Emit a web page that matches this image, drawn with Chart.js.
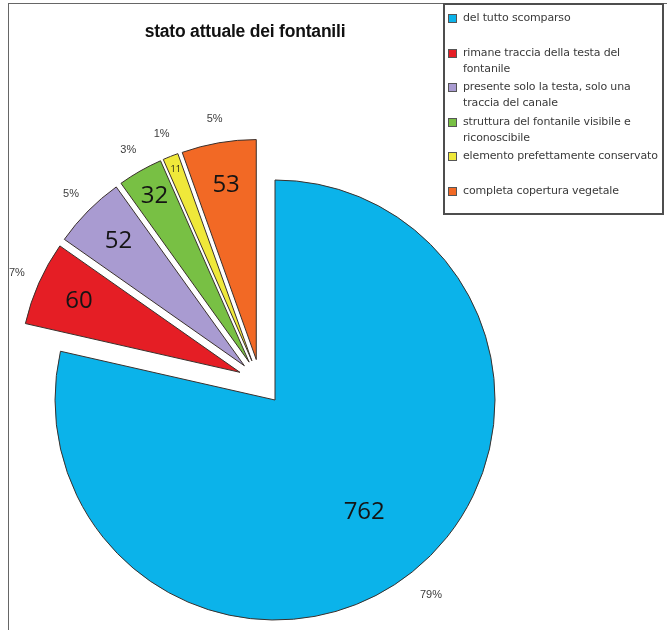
<!DOCTYPE html>
<html>
<head>
<meta charset="utf-8">
<script src="https://cdn.jsdelivr.net/npm/chart.js@4/dist/chart.umd.min.js"></script>
<style>
  html, body { margin:0; padding:0; background:#fff; }
  #wrap { position:relative; width:667px; height:630px; overflow:hidden; background:#fff; }
  #c { position:absolute; left:0; top:0; }
  #frame { position:absolute; left:8px; top:3px; width:670px; height:640px;
           border-top:1.5px solid #666; border-left:1.5px solid #666; box-sizing:border-box; }
  #title { position:absolute; left:0; width:490px; top:21px; text-align:center;
           font:bold 17.5px "Liberation Sans", Arial, sans-serif; color:#111; line-height:20px; letter-spacing:-0.2px; }
  #legend { position:absolute; left:443px; top:3px; width:221px; height:212px; box-sizing:border-box;
            border:2px solid #4e4e4e; background:#fff; }
  .item { position:absolute; left:1px; width:216px; }
  .mk { position:absolute; left:2px; top:4px; width:7px; height:7px; border:1px solid #555; }
  .tx { position:absolute; left:17px; width:200px; font:11px "DejaVu Sans", sans-serif; color:#3a3a3a;
        line-height:16px; letter-spacing:-0.15px; }
</style>
</head>
<body>
<div id="wrap">
  <canvas id="c" width="667" height="630"></canvas>
  <div id="frame"></div>
  <div id="title"></div>
  <div id="legend"></div>
</div>
<script>
const chartTitle = 'stato attuale dei fontanili';
const categories = [
  'del tutto scomparso',
  'rimane traccia della testa del fontanile',
  'presente solo la testa, solo una traccia del canale',
  'struttura del fontanile visibile e riconoscibile',
  'elemento prefettamente conservato',
  'completa copertura vegetale'
];
const values = [762, 60, 52, 32, 11, 53];
const percentLabels = ['79%', '7%', '5%', '3%', '1%', '5%'];
const colors = ['#0BB3EA', '#E51E25', '#A99BD1', '#78C044', '#EFE83A', '#F26925'];

const GROUP_PULL = 24, SLICE_PULL = 22, RADIUS = 220;

document.getElementById('title').textContent = chartTitle;

// legend (HTML)
const legend = document.getElementById('legend');
categories.forEach((name, i) => {
  const it = document.createElement('div');
  it.className = 'item';
  it.style.top = (5 + i * 34.5) + 'px';
  const mk = document.createElement('div');
  mk.className = 'mk';
  mk.style.background = colors[i];
  const tx = document.createElement('div');
  tx.className = 'tx';
  tx.textContent = name;
  it.appendChild(mk); it.appendChild(tx);
  legend.appendChild(it);
});

function sliceShift(arcs, i) {
  if (i === 0) return {dx: 0, dy: 0};
  const gMid = (arcs[1].startAngle + arcs[arcs.length - 1].endAngle) / 2;
  const a = arcs[i];
  const mid = (a.startAngle + a.endAngle) / 2;
  return {
    dx: GROUP_PULL * Math.cos(gMid) + SLICE_PULL * Math.cos(mid),
    dy: GROUP_PULL * Math.sin(gMid) + SLICE_PULL * Math.sin(mid)
  };
}

const explodePlugin = {
  id: 'explode',
  beforeDatasetDraw(chart, args) {
    const ctx = chart.ctx;
    const arcs = args.meta.data;
    arcs.forEach((arc, i) => {
      const s = sliceShift(arcs, i);
      ctx.save();
      ctx.translate(s.dx, s.dy);
      arc.draw(ctx);
      ctx.restore();
    });
    return false;
  },
  afterDraw(chart) {
    const ctx = chart.ctx;
    const arcs = chart.getDatasetMeta(0).data;
    ctx.save();
    ctx.textAlign = 'center';
    ctx.textBaseline = 'middle';
    arcs.forEach((a, i) => {
      const s = sliceShift(arcs, i);
      const cx = a.x + s.dx, cy = a.y + s.dy;
      const mid = (a.startAngle + a.endAngle) / 2;
      const spanDeg = (a.endAngle - a.startAngle) * 180 / Math.PI;
      const r = a.outerRadius;
      const frac = i === 0 ? 0.65 : 0.80 + Math.max(0, 20 - spanDeg) * 0.0085;
      const small = spanDeg < 6;
      ctx.fillStyle = '#141414';
      ctx.font = small ? '9px "Open Sans", sans-serif' : '24px "Open Sans", sans-serif';
      ctx.fillText(String(chart.data.datasets[0].data[i]), cx + Math.cos(mid) * r * frac, cy + Math.sin(mid) * r * frac);
      const pr = r + (i === 0 ? 30 : 24);
      ctx.fillStyle = '#3c3c3c';
      ctx.font = '11px "Liberation Sans", Arial, sans-serif';
      ctx.fillText(percentLabels[i], cx + Math.cos(mid) * pr, cy + Math.sin(mid) * pr);
    });
    ctx.restore();
  }
};

new Chart(document.getElementById('c'), {
  type: 'pie',
  data: {
    labels: categories,
    datasets: [{
      data: values,
      backgroundColor: colors,
      borderColor: '#3a302c',
      borderWidth: 1,
      borderJoinStyle: 'miter'
    }]
  },
  options: {
    responsive: false,
    animation: false,
    devicePixelRatio: 1,
    radius: RADIUS,
    layout: { padding: { left: 0, right: 117, top: 170, bottom: 0 } },
    plugins: { legend: { display: false }, title: { display: false }, tooltip: { enabled: false } }
  },
  plugins: [explodePlugin]
});
</script>
</body>
</html>
